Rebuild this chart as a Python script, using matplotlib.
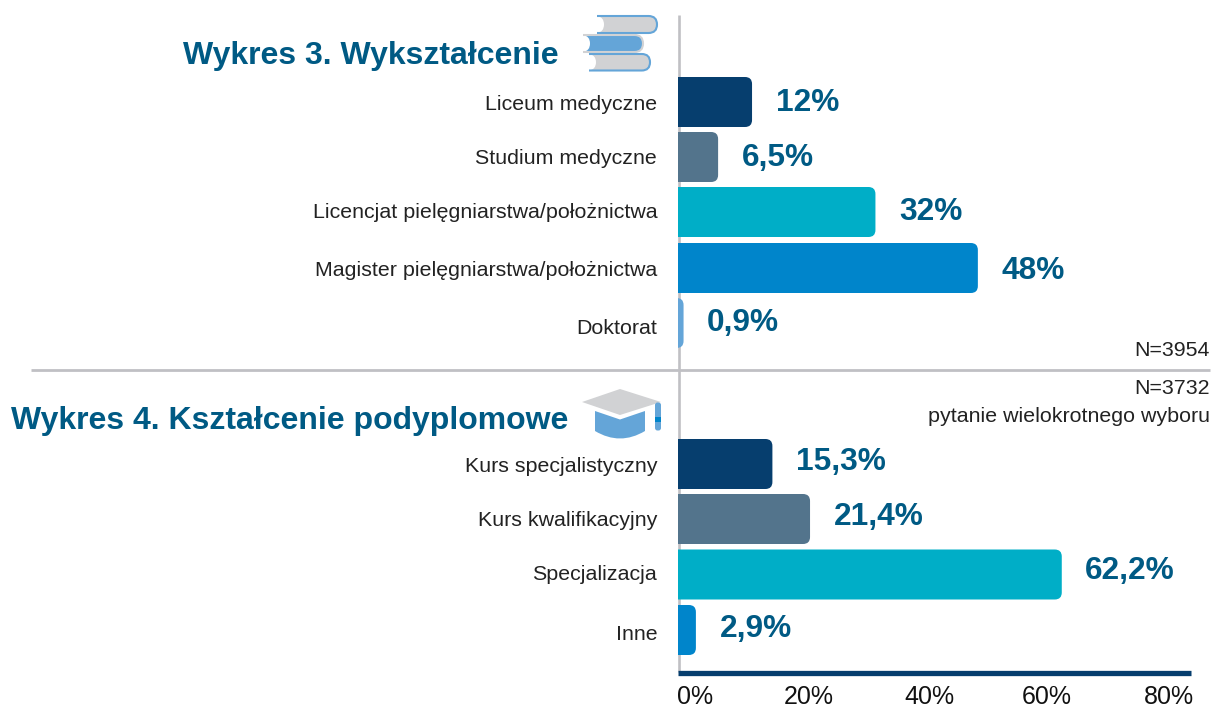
import matplotlib
matplotlib.use('Agg')
import matplotlib.pyplot as plt
from matplotlib.patches import FancyBboxPatch, Polygon, Rectangle, PathPatch
from matplotlib.path import Path

plt.rcParams['font.family'] = ['Liberation Sans', 'DejaVu Sans']

# dane z wykresu
kategorie_3 = ['Liceum medyczne', 'Studium medyczne', 'Licencjat pielęgniarstwa/położnictwa',
               'Magister pielęgniarstwa/położnictwa', 'Doktorat']
wartosci_3 = [12, 6.5, 32, 48.6, 0.9]
etykiety_3 = ['12%', '6,5%', '32%', '48%', '0,9%']

kategorie_4 = ['Kurs specjalistyczny', 'Kurs kwalifikacyjny', 'Specjalizacja', 'Inne']
wartosci_4 = [15.3, 21.4, 62.2, 2.9]
etykiety_4 = ['15,3%', '21,4%', '62,2%', '2,9%']

kolory = ['#063e6e', '#53748c', '#00aec7', '#0085cb', '#64a5d8']
ticki = ['0%', '20%', '40%', '60%', '80%']
pozycje_tickow = [2.7, 21.2, 40.7, 59.8, 79.5]

W, H = 1213, 709
GRANAT = '#005a84'
SZARY = '#c0c0c4'
PX_NA_PROC = 6.17
X0 = 678
XMAX = (1191 - X0) / PX_NA_PROC


def osie(gora, dol):
    # osie w pikselach obrazka, y liczone od gory
    return fig.add_axes([X0 / W, 1 - dol / H, (1191 - X0) / W, (dol - gora) / H])


def slupki(ax, kategorie, wartosci, etykiety, y_pix, y_etyk, y_wart, gora, dol):
    ax.set_xlim(0, XMAX)
    ax.set_ylim(dol, gora)  # os y w pikselach
    for i, (w, e) in enumerate(zip(wartosci, etykiety)):
        y = y_pix[i]
        r = 7 / PX_NA_PROC
        p = FancyBboxPatch((-r * 2, y - 25), w + r * 2, 50,
                           boxstyle='round,pad=0,rounding_size=%f' % min(r, w + r),
                           mutation_aspect=PX_NA_PROC, fc=kolory[i], ec='none')
        ax.add_patch(p)
        ax.text(w + 23.5 / PX_NA_PROC, y_wart[i], e, color=GRANAT, fontsize=22.8, fontweight='bold',
                va='center', ha='left')
    ax.set_yticks(y_etyk)
    ax.set_yticklabels(kategorie, fontsize=15.4, color='#222222')
    ax.set_xticks([])
    ax.tick_params(axis='y', length=0, pad=15)
    ax.patch.set_alpha(0)
    for s in ax.spines.values():
        s.set_visible(False)


fig = plt.figure(figsize=(W / 100, H / 100), dpi=100)

# warstwa w pikselach: linie, tytuly, ikony
tlo = fig.add_axes([0, 0, 1, 1])
tlo.set_xlim(0, W)
tlo.set_ylim(H, 0)
tlo.axis('off')

tlo.plot([679, 679], [15, 672], color=SZARY, lw=1.9, solid_capstyle='butt')
tlo.plot([31, 1210], [370, 370], color=SZARY, lw=2.0, solid_capstyle='butt')
tlo.plot([X0, 1191], [672.5, 672.5], color='#063e6e', lw=3.8, solid_capstyle='butt', zorder=5)

tlo.text(183, 56, 'Wykres 3. Wykształcenie', color=GRANAT, fontsize=23, fontweight='bold', va='center')
tlo.text(11, 421, 'Wykres 4. Kształcenie podyplomowe', color=GRANAT, fontsize=23, fontweight='bold', va='center')
tlo.text(1210, 351, 'N=3954', ha='right', va='center', fontsize=15.4, color='#222222')
tlo.text(1210, 389, 'N=3732', ha='right', va='center', fontsize=15.4, color='#222222')
tlo.text(1210, 416, 'pytanie wielokrotnego wyboru', ha='right', va='center', fontsize=15.4, color='#222222')


def ksiazka(x0, x1, y0, y1, wypelnienie, obrys):
    # grzbiet zaokraglony z prawej, wciecie z lewej, obrys bez lewego boku
    h = y1 - y0
    verts = [(x0, y0), (x1 - h / 2, y0), (x1, y0), (x1, y0 + h / 2), (x1, y1), (x1 - h / 2, y1), (x0, y1)]
    kody = [Path.MOVETO, Path.LINETO, Path.CURVE3, Path.CURVE3, Path.CURVE3, Path.CURVE3, Path.LINETO]
    wciecie = [(x0 + 7, y1 - 1), (x0 + 7, y0 + h / 2), (x0 + 7, y0 + 1), (x0, y0), (x0, y0)]
    kody2 = [Path.CURVE3, Path.CURVE3, Path.CURVE3, Path.CURVE3, Path.CLOSEPOLY]
    tlo.add_patch(PathPatch(Path(verts + wciecie, kody + kody2), fc=wypelnienie, ec='none'))
    tlo.add_patch(PathPatch(Path(verts, kody), fc='none', ec=obrys, lw=1.5))


ksiazka(597, 657, 16, 33, '#d1d2d4', '#64a5d8')
ksiazka(583, 643, 35, 52, '#64a5d8', '#d1d2d4')
ksiazka(589, 650, 54, 70.5, '#d1d2d4', '#64a5d8')

# czapka
sciezka = Path([(595, 411), (620, 419.5), (645, 411), (645, 431), (620, 446), (595, 431), (595, 411)],
               [Path.MOVETO, Path.LINETO, Path.LINETO, Path.LINETO, Path.CURVE3, Path.CURVE3, Path.CLOSEPOLY])
tlo.add_patch(PathPatch(sciezka, fc='#64a5d8', ec='none'))
tlo.add_patch(Polygon([(582, 402), (620, 389), (661, 402), (620, 415)], fc='#d1d2d4', ec='none'))
tlo.add_patch(FancyBboxPatch((655, 402.5), 6, 28, boxstyle='round,pad=0,rounding_size=2.5', fc='#64a5d8', ec='none'))
tlo.add_patch(Rectangle((655, 417), 6, 5, fc='#0085cb', ec='none'))

ax3 = osie(60, 360)
slupki(ax3, kategorie_3, wartosci_3, etykiety_3, [102, 157, 212, 268, 323], [103, 156, 211, 268, 327],
       [103, 158, 212, 271, 323], 60, 360)

ax4 = osie(430, 672)
slupki(ax4, kategorie_4, wartosci_4, etykiety_4, [464, 519, 574.5, 630], [465, 519, 573, 633],
       [462, 517, 571, 629], 430, 672)
ax4.set_xticks(pozycje_tickow)
ax4.set_xticklabels(ticki, fontsize=18, color='#111111')
ax4.tick_params(axis='x', length=0, pad=9)

fig.savefig('out.png', dpi=100)
